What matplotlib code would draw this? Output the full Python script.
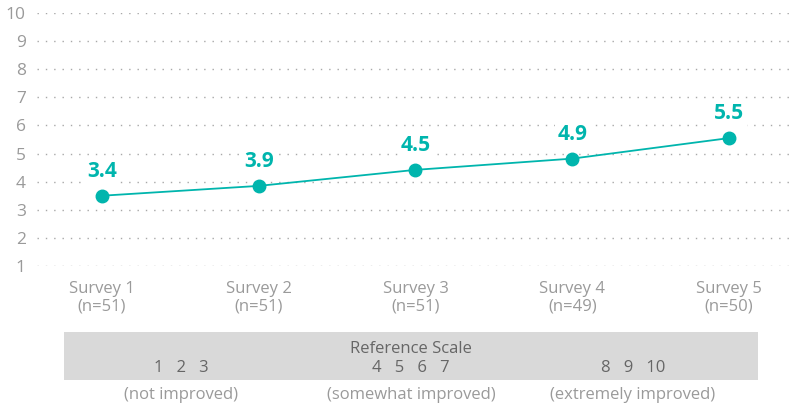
import matplotlib
matplotlib.use('Agg')
import matplotlib.pyplot as plt

plt.rcParams['font.family'] = ['Open Sans', 'DejaVu Sans']

surveys = ['Survey 1', 'Survey 2', 'Survey 3', 'Survey 4', 'Survey 5']
counts = ['(n=51)', '(n=51)', '(n=51)', '(n=49)', '(n=50)']
scores = [3.5, 3.85, 4.42, 4.82, 5.55]
score_labels = ['3.4', '3.9', '4.5', '4.9', '5.5']
yticks = list(range(1, 11))

scale_groups = ['1   2   3', '4   5   6   7', '8   9   10']
scale_names = ['(not improved)', '(somewhat improved)', '(extremely improved)']

teal = '#00b5ad'
grey = '#9a9a9a'

W, H = 789, 408
fig = plt.figure(figsize=(W / 100, H / 100), dpi=100)

# main line chart
ax = fig.add_axes([37 / W, (H - 266) / H, 1 - 37 / W, 253 / H])
x = list(range(len(scores)))
ax.set_xlim((37 - 102) / 156.75, (789 - 102) / 156.75)
ax.set_ylim(1, 10)
for v in yticks:
    ax.axhline(v, color='#a8a8a8', linewidth=1, linestyle=(0, (1, 5)), zorder=0)
ax.plot(x, scores, color=teal, linewidth=1.3, marker='o', markersize=9, zorder=5)
for xi, v, lab in zip(x, scores, score_labels):
    ax.annotate(lab, (xi, v), xytext=(0, 10), textcoords='offset points',
                ha='center', va='bottom', fontsize=15, fontweight='bold', color=teal,
                bbox=dict(boxstyle='square,pad=0.12', fc='white', ec='none'), zorder=4)

ax.set_yticks(yticks)
ax.set_yticklabels([str(v) for v in yticks], fontsize=12.5, color=grey)
ax.tick_params(axis='y', length=0, pad=8)
ax.set_xticks(x)
ax.set_xticklabels([f'{s}\n{c}' for s, c in zip(surveys, counts)], fontsize=12,
                   color=grey, linespacing=1.1)
ax.tick_params(axis='x', length=0, pad=11)
for sp in ax.spines.values():
    sp.set_visible(False)

# reference scale panel
bx = fig.add_axes([0, 0, 1, 1], zorder=-1)
bx.set_xlim(0, W)
bx.set_ylim(H, 0)
bx.axis('off')
bx.add_patch(plt.Rectangle((64, 332), 694, 48, color='#d9d9d9', lw=0))
bx.text(411, 349, 'Reference Scale', ha='center', va='center', fontsize=12, color='#666666')
for cx, g in zip([181, 411, 633], scale_groups):
    bx.text(cx, 368, g, ha='center', va='center', fontsize=12, color='#666666')
for cx, n in zip([181, 411, 633], scale_names):
    bx.text(cx, 395, n, ha='center', va='center', fontsize=12, color=grey)

fig.savefig('out.png', dpi=100)
